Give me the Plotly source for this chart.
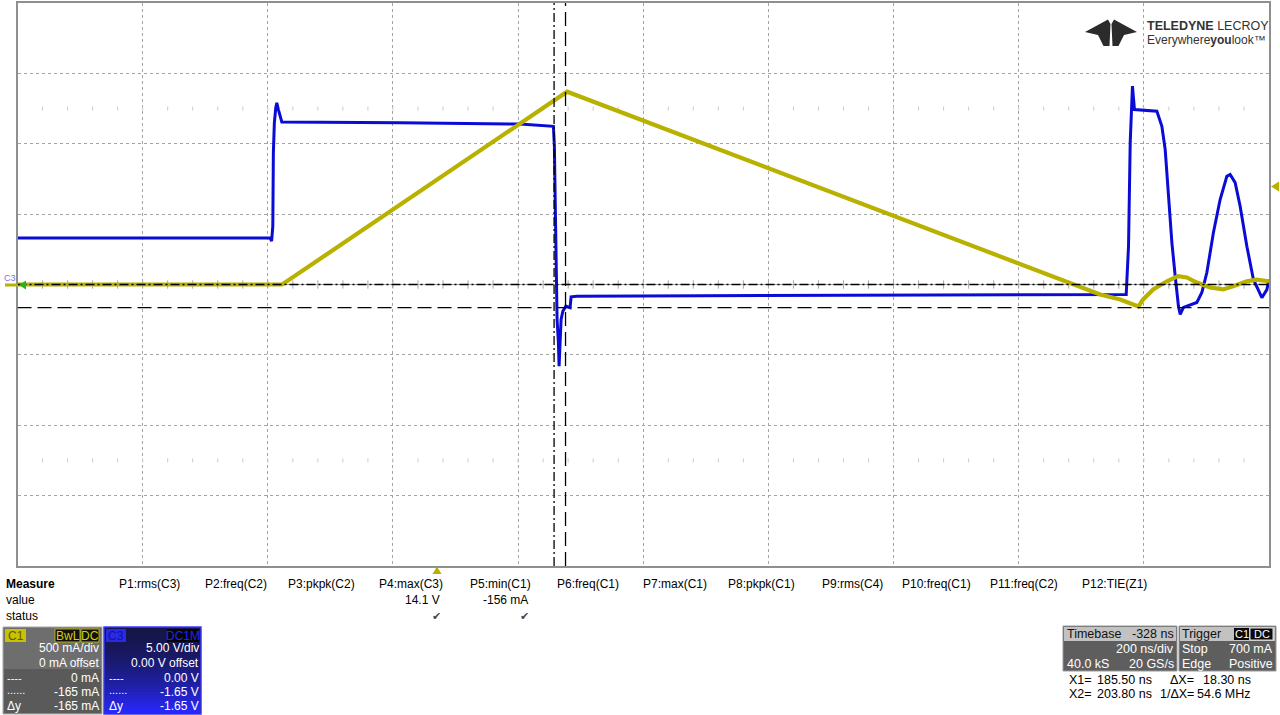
import plotly.graph_objects as go

# ---------------- data ----------------
# Channel C3 (blue), volts, time in ns
t_c3 = [-672, -268.3, -265.9, -264.0, -263.1, -261.5, -259.2, -257.6, -255.1, -252.4,
        -249.6, -60.9, 130.9, 184.4, 186.0, 187.1, 188.7, 190.3, 192.4, 193.5,
        195.1, 196.7, 199.5, 204.3, 211.1, 212.7, 221.8, 418.9, 738.5, 1099.8,
        1103.5, 1106.2, 1109.8, 1113.0, 1148.8, 1156.8, 1162.1, 1167.3, 1172.8, 1178.1,
        1183.3, 1186.1, 1191.3, 1212.7, 1220.7, 1228.7, 1239.2, 1249.9, 1260.6, 1265.9,
        1273.9, 1281.9, 1292.6, 1303.1, 1316.6, 1324.6, 1328]
v_c3 = [3.3, 3.3, 3.08, 4.14, 9.37, 11.5, 12.57, 12.9, 12.43, 11.95,
        11.55, 11.5, 11.4, 11.24, 9.82, 6.53, 1.78, -2.49, -4.12, -5.80,
        -4.12, -2.49, -1.90, -1.54, -1.65, -0.87, -0.83, -0.8, -0.76, -0.71,
        2.72, 10.08, 14.1, 12.43, 12.31, 11.24, 9.59, 6.53, 2.98, 0.59,
        -1.54, -2.13, -1.63, -1.28, -0.57, 0.85, 3.69, 6.04, 7.69, 7.81,
        7.24, 5.56, 2.72, 0.36, -0.94, -0.36, 0.36]

# Channel C1 (yellow), mA
t_c1 = [-672, -249.1, 206.3, 1058.2, 1090.1, 1110.9, 1119.4, 1126.9, 1142.9, 1164.8,
        1182.8, 1196.7, 1212.7, 1233.9, 1254.7, 1270.7, 1292.6, 1308.6, 1328]
i_c1 = [0, 0, 1370, -71, -106, -142, -156, -106, -35, 23,
        59, 50, 14, -21, -35, -12, 23, 35, 23]

# Cursors
cursor_x1_ns = 185.5
cursor_x2_ns = 203.8
cursor_y1_mA = 0
cursor_y2_mA = -165
trigger_level_mA = 700

# Scope settings
time_left_ns = -672
time_per_div_ns = 200
n_hdiv = 10
c3_v_per_div = 5.0
c1_ma_per_div = 500.0
n_vdiv = 8

measure_headers = ["P1:rms(C3)", "P2:freq(C2)", "P3:pkpk(C2)", "P4:max(C3)", "P5:min(C1)",
                   "P6:freq(C1)", "P7:max(C1)", "P8:pkpk(C1)", "P9:rms(C4)", "P10:freq(C1)",
                   "P11:freq(C2)", "P12:TIE(Z1)"]
measure_values = ["", "", "", "14.1 V", "-156 mA", "", "", "", "", "", "", ""]
measure_status = ["", "", "", "\u2714", "\u2714", "", "", "", "", "", "", ""]

# ---------------- layout helpers ----------------
W, H = 1280, 715
FONT = "Liberation Sans, Arial, sans-serif"
YELLOW = "#b8b100"
BLUE = "#0b0bd6"


def px(x):
    return x / W


def py(y):
    return 1 - y / H


PL, PR, PT, PB = 17.5, 1269, 3, 566
t_right = time_left_ns + n_hdiv * time_per_div_ns
v_half = c3_v_per_div * n_vdiv / 2
i_half = c1_ma_per_div * n_vdiv / 2

fig = go.Figure()

# minor tick marks on the centre line and the +/-2.5 div rows
minor_x = [time_left_ns + k * time_per_div_ns / 5 for k in range(1, n_hdiv * 5)]
fig.add_trace(go.Scatter(x=minor_x, y=[0] * len(minor_x), mode="markers",
                         marker=dict(symbol="line-ns", size=6, line=dict(color="#a8a8a8", width=1)),
                         hoverinfo="skip", showlegend=False))
for row in (2.5, -2.5):
    fig.add_trace(go.Scatter(x=minor_x, y=[row * c3_v_per_div] * len(minor_x), mode="markers",
                             marker=dict(symbol="line-ns", size=3, line=dict(color="#cccccc", width=1)),
                             hoverinfo="skip", showlegend=False))

fig.add_trace(go.Scatter(x=t_c1, y=i_c1, yaxis="y2", mode="lines",
                         line=dict(color=YELLOW, width=4.2), hoverinfo="skip", showlegend=False))
fig.add_trace(go.Scatter(x=t_c3, y=v_c3, mode="lines",
                         line=dict(color=BLUE, width=3), hoverinfo="skip", showlegend=False))

shapes = []
annotations = []


def rect(x0, y0, x1, y1, fill, line=None, lw=1):
    shapes.append(dict(type="rect", xref="paper", yref="paper", layer="above",
                       x0=px(x0), x1=px(x1), y0=py(y1), y1=py(y0), fillcolor=fill,
                       line=dict(color=line if line else fill, width=lw if line else 0)))


def poly(points, fill):
    d = "M " + " L ".join(f"{px(x):.5f},{py(y):.5f}" for x, y in points) + " Z"
    shapes.append(dict(type="path", xref="paper", yref="paper", path=d, fillcolor=fill,
                       line=dict(width=0), layer="above"))


def txt(x, y, s, anchor="left", size=12, color="black", family=FONT):
    annotations.append(dict(x=px(x), y=py(y), xref="paper", yref="paper", text=s,
                            showarrow=False, xanchor=anchor, yanchor="middle",
                            font=dict(family=family, size=size, color=color), borderpad=0))


# cursors
shapes.append(dict(type="line", xref="x", yref="y2", x0=time_left_ns, x1=t_right,
                   y0=cursor_y1_mA, y1=cursor_y1_mA,
                   line=dict(color="black", width=1.3, dash="9px,3px,2px,3px")))
shapes.append(dict(type="line", xref="x", yref="y2", x0=time_left_ns, x1=t_right,
                   y0=cursor_y2_mA, y1=cursor_y2_mA,
                   line=dict(color="black", width=1.3, dash="14px,6px")))
shapes.append(dict(type="line", xref="x", yref="paper", x0=cursor_x1_ns, x1=cursor_x1_ns,
                   y0=py(PB), y1=py(PT), line=dict(color="black", width=1.3, dash="9px,3px,2px,3px")))
shapes.append(dict(type="line", xref="x", yref="paper", x0=cursor_x2_ns, x1=cursor_x2_ns,
                   y0=py(PB), y1=py(PT), line=dict(color="black", width=1.3, dash="14px,6px")))

# left / right / bottom markers
shapes.append(dict(type="line", xref="paper", yref="paper", x0=px(5), x1=px(18), y0=py(285), y1=py(285),
                   line=dict(color=YELLOW, width=3)))
poly([(19, 285), (26, 280.5), (26, 289.5)], "#22b422")
txt(10, 278, "C3", "center", 9, "#7474e6")
trig_y = 285 - trigger_level_mA / c1_ma_per_div * (PB - PT) / n_vdiv
poly([(1271, trig_y), (1279, trig_y - 5), (1279, trig_y + 5)], YELLOW)
poly([(437, 566.5), (432.5, 574), (441.5, 574)], YELLOW)

# logo
poly([(1085, 32), (1108, 19.5), (1110.5, 24), (1109.5, 46), (1103.5, 46), (1098, 35)], "#2b2b2b")
poly([(1137, 32), (1114, 19.5), (1111.5, 24), (1112.5, 46), (1118.5, 46), (1124, 35)], "#2b2b2b")
txt(1146, 26, "<b>TELEDYNE</b> LECROY", "left", 12.5, "#333333")
txt(1146, 39.5, "Everywhere<b>you</b>look\u2122", "left", 12, "#333333")

# measure table
txt(5, 584, "<b>Measure</b>", "left", 12)
txt(5, 600, "value", "left", 12)
txt(5, 616, "status", "left", 12)
head_x = [118, 204, 287, 378, 469, 556, 642, 727, 821, 901, 989, 1081]
head_w = [62, 63, 67, 63, 60, 61, 59, 68, 62, 70, 70, 64]
for hx, hw, h, v, s in zip(head_x, head_w, measure_headers, measure_values, measure_status):
    txt(hx, 584, h, "left", 12)
    if v:
        txt(hx + hw, 600, v, "right", 12)
    if s:
        txt(hx + hw - 5, 616, s, "center", 11, "#4a4a4a", "DejaVu Sans")

# C1 channel box
rect(3, 627, 102, 714, "#6e6e6e", "#a6a6a6", 1)
rect(4, 669, 101, 713, "#5a5a5a")
rect(5, 629, 26, 642, "#c8c200")
txt(15.5, 635.5, "C1", "center", 12, "#5e5a00")
rect(55, 629, 80, 642, "#111111", "#b4ae00", 1)
txt(67.5, 635.5, "BwL", "center", 12, "#d6d000")
rect(81, 629, 99, 642, "#111111", "#b4ae00", 1)
txt(90, 635.5, "DC", "center", 12, "#d6d000")
for yy, s in zip([648, 663, 678, 692, 706], ["500 mA/div", "0 mA offset", "0 mA", "-165 mA", "-165 mA"]):
    txt(100, yy, s, "right", 12, "white")
txt(6, 678, "----", "left", 11, "white")
txt(6, 690, "......", "left", 11, "white")
txt(6, 706, "\u0394y", "left", 12, "white")

# C3 channel box with gradient
rect(104, 627, 201, 714, "#16164a", "#3a3aff", 1.5)
n_strip = 24
for k in range(n_strip):
    f = (k / (n_strip - 1)) ** 1.6
    r = int(22 + f * (40 - 22))
    g = int(22 + f * (40 - 22))
    b = int(74 + f * (250 - 74))
    y0 = 628 + k * (713 - 628) / n_strip
    y1 = 628 + (k + 1) * (713 - 628) / n_strip + 0.6
    rect(105, y0, 200, y1, f"rgb({r},{g},{b})")
rect(106, 629, 126, 642, "#2a2ae0")
txt(116, 635.5, "C3", "center", 12, "#1010b0")
rect(167, 629, 199, 642, "#050505")
txt(183, 635.5, "DC1M", "center", 12, "#2222ff")
for yy, s in zip([648, 663, 678, 692, 706], ["5.00 V/div", "0.00 V offset", "0.00 V", "-1.65 V", "-1.65 V"]):
    txt(200, yy, s, "right", 12, "white")
txt(108, 678, "----", "left", 11, "white")
txt(108, 690, "......", "left", 11, "white")
txt(108, 706, "\u0394y", "left", 12, "white")

# Timebase box
rect(1063, 626, 1177, 671, "#5e5e5e", "#9a9a9a", 1)
rect(1064, 627, 1176, 641, "#c2c2c2")
txt(1066, 634, "Timebase", "left", 12.5, "#111111")
txt(1175, 634, "-328 ns", "right", 12.5, "#111111")
txt(1175, 649, "200 ns/div", "right", 12.5, "white")
txt(1066, 664, "40.0 kS", "left", 12.5, "white")
txt(1175, 664, "20 GS/s", "right", 12.5, "white")

# Trigger box
rect(1179, 626, 1276, 671, "#5e5e5e", "#9a9a9a", 1)
rect(1180, 627, 1275, 641, "#c2c2c2")
txt(1181, 634, "Trigger", "left", 12.5, "#111111")
rect(1234, 628, 1249, 640, "#0a0a0a")
txt(1241.5, 634, "C1", "center", 11, "white")
rect(1250, 628, 1273, 640, "#0a0a0a", "#dddddd", 1)
txt(1261.5, 634, "DC", "center", 11, "white")
txt(1181, 649, "Stop", "left", 12.5, "white")
txt(1274, 649, "700 mA", "right", 12.5, "white")
txt(1181, 664, "Edge", "left", 12.5, "white")
txt(1274, 664, "Positive", "right", 12.5, "white")

# cursor readouts
txt(1068, 680, "X1=", "left", 12.5)
txt(1153, 680, f"{cursor_x1_ns:.2f} ns", "right", 12.5)
txt(1195, 680, "\u0394X=", "right", 12.5)
txt(1252, 680, f"{cursor_x2_ns - cursor_x1_ns:.2f} ns", "right", 12.5)
txt(1068, 694, "X2=", "left", 12.5)
txt(1153, 694, f"{cursor_x2_ns:.2f} ns", "right", 12.5)
txt(1195, 694, "1/\u0394X=", "right", 12.5)
txt(1252, 694, f"{1000 / (cursor_x2_ns - cursor_x1_ns):.1f} MHz", "right", 12.5)

axis_common = dict(showticklabels=False, ticks="", showline=True, mirror=True,
                   linecolor="#8f8f8f", linewidth=2, showgrid=True, gridcolor="#a4a4a4",
                   griddash="dot", gridwidth=1, fixedrange=True)

fig.update_layout(
    width=W, height=H, margin=dict(l=0, r=0, t=0, b=0),
    paper_bgcolor="white", plot_bgcolor="white", showlegend=False,
    xaxis=dict(domain=[px(PL), px(PR)], range=[time_left_ns, t_right], tick0=time_left_ns,
               dtick=time_per_div_ns, zeroline=False, **axis_common),
    yaxis=dict(domain=[py(PB), py(PT)], range=[-v_half, v_half], tick0=-v_half, dtick=c3_v_per_div,
               zeroline=True, zerolinecolor="#a4a4a4", zerolinewidth=1, **axis_common),
    yaxis2=dict(overlaying="y", range=[-i_half, i_half], visible=False, fixedrange=True),
    shapes=shapes, annotations=annotations,
)

fig.write_html("out.html", config={"displayModeBar": False},
               post_script="document.body.style.margin='0';document.body.style.overflow='hidden';")
